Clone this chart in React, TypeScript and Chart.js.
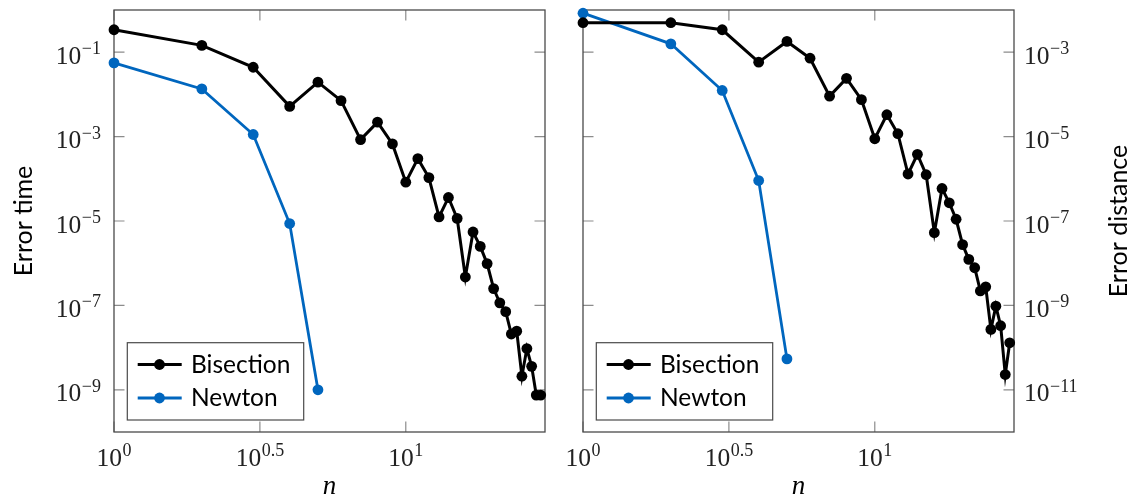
import React, { useEffect, useRef } from "react";
import { Chart, registerables } from "chart.js";

Chart.register(...registerables);

// ---------- data ----------
const nBisection = [1, 2, 3, 4, 5, 6, 7, 8, 9, 10, 11, 12, 13, 14, 15, 16, 17, 18, 19, 20, 21, 22, 23, 24, 25, 26, 27, 28, 29];
const nNewton = [1, 2, 3, 4, 5];

const timeBisection = [
  0.34, 0.145, 0.044, 5.2e-3, 1.95e-2, 7.1e-3, 8.5e-4, 2.2e-3, 6.7e-4, 8.3e-5,
  3.0e-4, 1.07e-4, 1.25e-5, 3.6e-5, 1.15e-5, 4.7e-7, 5.5e-6, 2.5e-6, 9.8e-7, 2.5e-7,
  1.15e-7, 7.1e-8, 2.1e-8, 2.45e-8, 2.1e-9, 9.5e-9, 3.6e-9, 7.5e-10, 7.5e-10,
];
const timeNewton = [0.056, 0.0135, 1.12e-3, 8.7e-6, 1.0e-9];

const distBisection = [
  5e-3, 5e-3, 3.4e-3, 5.8e-4, 1.8e-3, 7.2e-4, 9.1e-5, 2.4e-4, 7.5e-5, 8.9e-6,
  3.3e-5, 1.17e-5, 1.3e-6, 3.8e-6, 1.25e-6, 5.3e-8, 5.9e-7, 2.7e-7, 1.1e-7, 2.75e-8,
  1.23e-8, 7.8e-9, 2.2e-9, 2.75e-9, 2.7e-10, 9.6e-10, 3.3e-10, 2.3e-11, 1.3e-10,
];
const distNewton = [8.4e-3, 1.58e-3, 1.24e-4, 9.1e-7, 5.4e-11];

const seriesLabels = ["Bisection", "Newton"];

const xTickValues = [1, Math.sqrt(10), 10];
const xTickExps = ["0", "0.5", "1"];

const leftYTickValues = [1e-1, 1e-3, 1e-5, 1e-7, 1e-9];
const leftYTickExps = ["\u22121", "\u22123", "\u22125", "\u22127", "\u22129"];

const rightYTickValues = [1e-3, 1e-5, 1e-7, 1e-9, 1e-11];
const rightYTickExps = ["\u22123", "\u22125", "\u22127", "\u22129", "\u221211"];

const xTitle = "n";
const leftYTitle = "Error time";
const rightYTitle = "Error distance";

// ---------- styles ----------
const BLACK = "#000000";
const BLUE = "#0066BE";
const SANS = 'Lato, "Open Sans", sans-serif';
const SERIF = '"Liberation Serif", "DejaVu Serif", serif';

function drawPow(ctx: CanvasRenderingContext2D, exp: string, x: number, baseline: number, align: "left" | "right" | "center") {
  ctx.save();
  ctx.fillStyle = "#222";
  ctx.textBaseline = "alphabetic";
  ctx.textAlign = "left";
  ctx.font = `25.5px ${SERIF}`;
  const wb = ctx.measureText("10").width;
  ctx.font = `18px ${SERIF}`;
  const we = ctx.measureText(exp).width;
  const w = wb + we + 0.5;
  let start = x;
  if (align === "right") start = x - w;
  else if (align === "center") start = x - w / 2;
  ctx.font = `25.5px ${SERIF}`;
  ctx.fillText("10", start, baseline);
  ctx.font = `18px ${SERIF}`;
  ctx.fillText(exp, start + wb + 0.5, baseline - 9.5);
  ctx.restore();
}

const decorPlugin = {
  id: "decor",
  beforeDatasetsDraw(chart: any, _args: any, opts: any) {
    const ctx: CanvasRenderingContext2D = chart.ctx;
    const { left, right, top, bottom } = chart.chartArea;
    const xs = chart.scales.x;
    const ys = chart.scales.y;
    ctx.save();
    ctx.strokeStyle = "#8c8c8c";
    ctx.lineWidth = 1.2;
    const tl = 10.5;
    ctx.beginPath();
    for (const v of opts.xTicks) {
      const px = xs.getPixelForValue(v);
      ctx.moveTo(px, bottom);
      ctx.lineTo(px, bottom - tl);
      ctx.moveTo(px, top);
      ctx.lineTo(px, top + tl);
    }
    for (const v of opts.yTicks) {
      const py = ys.getPixelForValue(v);
      ctx.moveTo(left, py);
      ctx.lineTo(left + tl, py);
      ctx.moveTo(right, py);
      ctx.lineTo(right - tl, py);
    }
    ctx.stroke();
    ctx.strokeStyle = "#4a4a4a";
    ctx.lineWidth = 1.3;
    ctx.strokeRect(left, top, right - left, bottom - top);
    ctx.restore();
  },
  afterDatasetsDraw(chart: any, _args: any, opts: any) {
    const ctx: CanvasRenderingContext2D = chart.ctx;
    const { left, bottom } = chart.chartArea;
    const bx = left + 13.3;
    const bw = 176.4;
    const bh = 77.3;
    const by = bottom - 12 - bh;
    ctx.save();
    ctx.fillStyle = "#ffffff";
    ctx.fillRect(bx, by, bw, bh);
    ctx.strokeStyle = "#4a4a4a";
    ctx.lineWidth = 1.2;
    ctx.strokeRect(bx, by, bw, bh);
    const rows = [21.8, 55.3];
    chart.data.datasets.forEach((ds: any, i: number) => {
      const cy = by + rows[i];
      ctx.strokeStyle = ds.borderColor;
      ctx.lineWidth = ds.borderWidth;
      ctx.beginPath();
      ctx.moveTo(bx + 10.4, cy);
      ctx.lineTo(bx + 54.4, cy);
      ctx.stroke();
      ctx.fillStyle = ds.pointBackgroundColor;
      ctx.beginPath();
      ctx.arc(bx + 32.2, cy, ds.pointRadius, 0, Math.PI * 2);
      ctx.fill();
      ctx.fillStyle = "#000";
      ctx.font = `24.5px ${SANS}`;
      ctx.textAlign = "left";
      ctx.textBaseline = "alphabetic";
      ctx.fillText(ds.label, bx + 63.7, cy + 8);
    });
    ctx.restore();
  },
  afterDraw(chart: any, _args: any, opts: any) {
    const ctx: CanvasRenderingContext2D = chart.ctx;
    const { left, right, top, bottom } = chart.chartArea;
    const xs = chart.scales.x;
    const ys = chart.scales.y;
    opts.xTicks.forEach((v: number, i: number) => {
      drawPow(ctx, opts.xExps[i], xs.getPixelForValue(v), bottom + 33.5, "center");
    });
    opts.yTicks.forEach((v: number, i: number) => {
      const py = ys.getPixelForValue(v);
      if (opts.side === "left") drawPow(ctx, opts.yExps[i], left - 13, py + 11.5, "right");
      else drawPow(ctx, opts.yExps[i], right + 10, py + 11.5, "left");
    });
    ctx.save();
    ctx.fillStyle = "#000";
    ctx.font = `italic 27px ${SERIF}`;
    ctx.textAlign = "center";
    ctx.textBaseline = "alphabetic";
    ctx.fillText(opts.xTitle, (left + right) / 2, 494);
    ctx.font = `25px ${SANS}`;
    const cy = (top + bottom) / 2;
    const tx = opts.side === "left" ? 32 : opts.titleX;
    ctx.translate(tx, cy);
    ctx.rotate(-Math.PI / 2);
    ctx.fillText(opts.yTitle, 0, 0);
    ctx.restore();
  },
};

function makeConfig(side: "left" | "right") {
  const isLeft = side === "left";
  const bis = isLeft ? timeBisection : distBisection;
  const nwt = isLeft ? timeNewton : distNewton;
  const yTicks = isLeft ? leftYTickValues : rightYTickValues;
  const yExps = isLeft ? leftYTickExps : rightYTickExps;
  return {
    type: "line",
    data: {
      datasets: [
        {
          label: seriesLabels[0],
          data: nBisection.map((n, i) => ({ x: n, y: bis[i] })),
          borderColor: BLACK,
          backgroundColor: BLACK,
          pointBackgroundColor: BLACK,
          pointBorderWidth: 0,
          pointRadius: 5.4,
          borderWidth: 3,
          tension: 0,
          clip: false,
        },
        {
          label: seriesLabels[1],
          data: nNewton.map((n, i) => ({ x: n, y: nwt[i] })),
          borderColor: BLUE,
          backgroundColor: BLUE,
          pointBackgroundColor: BLUE,
          pointBorderWidth: 0,
          pointRadius: 5.4,
          borderWidth: 2.8,
          tension: 0,
          clip: false,
        },
      ],
    },
    options: {
      responsive: false,
      maintainAspectRatio: false,
      devicePixelRatio: 1,
      animation: false,
      events: [],
      layout: {
        padding: isLeft ? { left: 0, right: 15, top: 10, bottom: 0 } : { left: 18, right: 0, top: 10, bottom: 0 },
      },
      plugins: {
        legend: { display: false },
        tooltip: { enabled: false },
        decor: {
          side,
          xTicks: xTickValues,
          xExps: xTickExps,
          yTicks,
          yExps,
          xTitle,
          yTitle: isLeft ? leftYTitle : rightYTitle,
          titleX: 1127 - 565,
        },
      },
      scales: {
        x: {
          type: "logarithmic",
          min: 1,
          max: 30,
          grid: { display: false },
          border: { display: false },
          ticks: { display: false },
          afterBuildTicks: (s: any) => {
            s.ticks = xTickValues.map((v) => ({ value: v }));
          },
          afterFit: (s: any) => {
            s.height = 68;
          },
        },
        y: {
          type: "logarithmic",
          position: side,
          min: isLeft ? 1e-10 : 1e-12,
          max: isLeft ? 1 : 1e-2,
          grid: { display: false },
          border: { display: false },
          ticks: { display: false },
          afterBuildTicks: (s: any) => {
            s.ticks = yTicks.map((v) => ({ value: v }));
          },
          afterFit: (s: any) => {
            s.width = isLeft ? 114 : 118;
          },
        },
      },
    },
    plugins: [decorPlugin],
  };
}

export default function App() {
  const leftRef = useRef<HTMLCanvasElement>(null);
  const rightRef = useRef<HTMLCanvasElement>(null);

  useEffect(() => {
    const c1 = new Chart(leftRef.current as HTMLCanvasElement, makeConfig("left") as any);
    const c2 = new Chart(rightRef.current as HTMLCanvasElement, makeConfig("right") as any);
    return () => {
      c1.destroy();
      c2.destroy();
    };
  }, []);

  return (
    <div style={{ position: "fixed", left: 0, top: 0, width: 1132, height: 500, background: "#fff" }}>
      <canvas
        ref={leftRef}
        width={560}
        height={500}
        style={{ position: "absolute", left: 0, top: 0, width: 560, height: 500, display: "block" }}
      />
      <canvas
        ref={rightRef}
        width={567}
        height={500}
        style={{ position: "absolute", left: 565, top: 0, width: 567, height: 500, display: "block" }}
      />
    </div>
  );
}
